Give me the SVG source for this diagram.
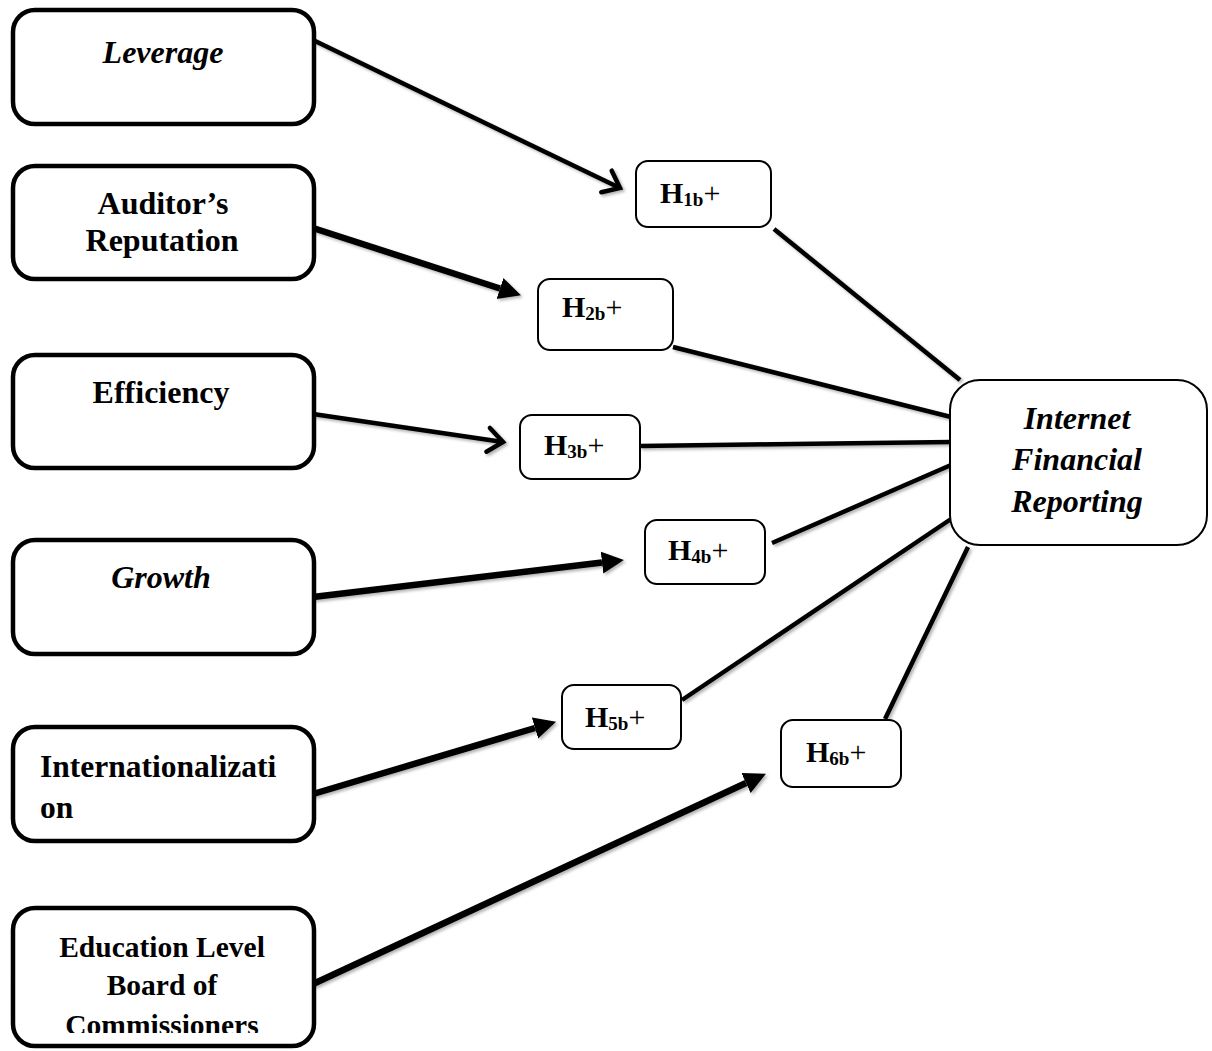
<svg xmlns="http://www.w3.org/2000/svg" width="1212" height="1051" viewBox="0 0 1212 1051">
<style>
.big{fill:#fff;stroke:#000;stroke-width:4.5}
.hb{fill:#fff;stroke:#000;stroke-width:2}
.t{font-family:"Liberation Serif","Times New Roman",serif;font-weight:bold;font-size:32px;fill:#000}
.i{font-style:italic}
.s31{font-size:31.5px}
.s29{font-size:29.5px}
.h{font-family:"Liberation Serif","Times New Roman",serif;font-weight:bold;font-size:30px;fill:#000}
.sub{font-size:19px}
.plus{font-weight:normal}
.c{fill:none;stroke:#000;stroke-width:4.5}
.thick{stroke-width:6.5}
</style>
<defs>
<filter id="sh" x="-10%" y="-10%" width="120%" height="120%">
<feDropShadow dx="2" dy="2" stdDeviation="1.5" flood-color="#000" flood-opacity="0.3"/>
</filter>
<marker id="tri" markerUnits="userSpaceOnUse" viewBox="0 -12 22 24" refX="0" refY="0" markerWidth="22" markerHeight="24" orient="auto">
<path d="M0,-11 L22,0 L0,11 z" fill="#000"/>
</marker>
<marker id="chev" markerUnits="userSpaceOnUse" viewBox="-20 -16 24 32" refX="0" refY="0" markerWidth="24" markerHeight="32" orient="auto" overflow="visible">
<path d="M-15,-12 L0,0 L-15,12" fill="none" stroke="#000" stroke-width="4.5" stroke-linecap="round" stroke-linejoin="miter"/>
</marker>
<clipPath id="edclip"><rect x="0" y="900" width="330" height="133"/></clipPath>
</defs>
<g id="connectors" filter="url(#sh)">
<line class="c" x1="313" y1="40" x2="620" y2="188" marker-end="url(#chev)"/>
<line class="c thick" x1="313" y1="228" x2="500" y2="288.5" marker-end="url(#tri)"/>
<line class="c" x1="313" y1="414" x2="503" y2="442" marker-end="url(#chev)"/>
<line class="c thick" x1="313" y1="597" x2="602" y2="562.5" marker-end="url(#tri)"/>
<line class="c thick" x1="313" y1="794" x2="535" y2="728" marker-end="url(#tri)"/>
<line class="c thick" x1="313" y1="984" x2="746" y2="783" marker-end="url(#tri)"/>
<line class="c" x1="774" y1="229" x2="960" y2="380"/>
<line class="c" x1="673" y1="347" x2="951" y2="417"/>
<line class="c" x1="640" y1="446" x2="951" y2="442"/>
<line class="c" x1="772" y1="543" x2="951" y2="465"/>
<line class="c" x1="682" y1="700" x2="951" y2="519"/>
<line class="c" x1="885" y1="719" x2="968" y2="547"/>
</g>
<g id="leverage">
<rect class="big" x="13" y="10" width="301" height="114" rx="22"/>
<text class="t i" x="163" y="63" text-anchor="middle">Leverage</text>
</g>
<g id="auditor">
<rect class="big" x="13" y="166" width="301" height="113" rx="22"/>
<text class="t" x="163" y="214" text-anchor="middle">Auditor’s</text>
<text class="t" x="162" y="251" text-anchor="middle">Reputation</text>
</g>
<g id="efficiency">
<rect class="big" x="13" y="355" width="301" height="113" rx="22"/>
<text class="t" x="161" y="403" text-anchor="middle">Efficiency</text>
</g>
<g id="growth">
<rect class="big" x="13" y="540" width="301" height="114" rx="22"/>
<text class="t i" x="161" y="588" text-anchor="middle">Growth</text>
</g>
<g id="internationalization">
<rect class="big" x="13" y="727" width="301" height="114" rx="22"/>
<text class="t s31" x="40" y="777">Internationalizati</text>
<text class="t s31" x="40" y="818">on</text>
</g>
<g id="education">
<rect class="big" x="13" y="908" width="301" height="138" rx="22"/>
<g clip-path="url(#edclip)">
<text class="t s29" x="162" y="957" text-anchor="middle">Education Level</text>
<text class="t s29" x="162" y="995" text-anchor="middle">Board of</text>
<text class="t s29" x="162" y="1035" text-anchor="middle">Commissioners</text>
</g>
</g>
<g id="h1">
<rect class="hb" x="636" y="161" width="135" height="66" rx="12"/>
<text class="h" x="660" y="203">H<tspan class="sub" dy="3">1b</tspan><tspan class="plus" dy="-3">+</tspan></text>
</g>
<g id="h2">
<rect class="hb" x="538" y="279" width="135" height="71" rx="12"/>
<text class="h" x="562" y="317">H<tspan class="sub" dy="3">2b</tspan><tspan class="plus" dy="-3">+</tspan></text>
</g>
<g id="h3">
<rect class="hb" x="520" y="415" width="120" height="64" rx="12"/>
<text class="h" x="544" y="455">H<tspan class="sub" dy="3">3b</tspan><tspan class="plus" dy="-3">+</tspan></text>
</g>
<g id="h4">
<rect class="hb" x="645" y="520" width="120" height="64" rx="12"/>
<text class="h" x="668" y="560">H<tspan class="sub" dy="3">4b</tspan><tspan class="plus" dy="-3">+</tspan></text>
</g>
<g id="h5">
<rect class="hb" x="562" y="685" width="119" height="64" rx="12"/>
<text class="h" x="585" y="727">H<tspan class="sub" dy="3">5b</tspan><tspan class="plus" dy="-3">+</tspan></text>
</g>
<g id="h6">
<rect class="hb" x="781" y="720" width="120" height="67" rx="12"/>
<text class="h" x="806" y="762">H<tspan class="sub" dy="3">6b</tspan><tspan class="plus" dy="-3">+</tspan></text>
</g>
<g id="ifr">
<rect class="hb" x="950" y="380" width="257" height="165" rx="30"/>
<text class="t i" x="1077" y="429" text-anchor="middle">Internet</text>
<text class="t i" x="1077" y="470" text-anchor="middle">Financial</text>
<text class="t i" x="1077" y="512" text-anchor="middle">Reporting</text>
</g>
</svg>
